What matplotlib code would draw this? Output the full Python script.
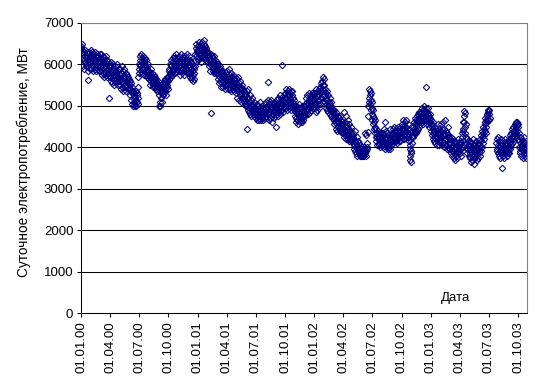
import numpy as np
import pandas as pd
import matplotlib
matplotlib.use("Agg")
import matplotlib.pyplot as plt
import matplotlib.dates as mdates

nan = np.nan

# Daily electricity consumption, MW (one list per month)
cons_2000 = [
    [6450, 6400, 6500, 6300, 6350, 6150, 5950, 6250, 6100, 6300, 5900, 6200, 6050, 6350, 6000, 6150, 5950, 6300, 6100, 6200, 5850, 5620, 6250, 6050, 6300, 6000, 6150, 5900, 6200, 6350],
    [6100, 5900, 6250, 6050, 6300, 5950, 6150, 5850, 6200, 6000, 6250, 6100, 5900, 6300, 6050, 5850, 6200, 6000, 6150, 5950, 6250, 6050, 5900, 6200, 6100, 5850, 6000, 6250, 5950],
    [6150, 5850, 6050, 6250, 5900, 5750, 6100, 6000, 6200, 5800, 6050, 5950, 5700, 6150, 5900, 6050, 5800, 6200, 5950, 5750, 6100, 5850, 6000, 5700, 5900, 6050, 5800, 5180, 5950, 5750, 6000],
    [5950, 5700, 5850, 6050, 5600, 5800, 5900, 5550, 5750, 6000, 5650, 5850, 5500, 5900, 5750, 5600, 5950, 5700, 5850, 5550, 5800, 5650, 6000, 5750, 5500, 5850, 5700, 5600, 5900, 5650],
    [5750, 5500, 5900, 5650, 5400, 5800, 5600, 5950, 5450, 5700, 5850, 5550, 5350, 5750, 5650, 5900, 5500, 5700, 5450, 5800, 5600, 5350, 5650, 5750, 5500, 5400, 5700, 5550, 5450, 5650, 5400],
    [5600, 5400, 5500, 5250, 5550, 5350, 5150, 5450, 5300, 5050, 5350, 5200, 4990, 5250, 5100, 5300, 5000, 5200, 5050, 5350, 5150, 5000, 5250, 5100, 5300, 5050, 5200, 5450, 5700, 5900],
    [6000, 5800, 6200, 5950, 6100, 5850, 6250, 6050, 5900, 6150, 5800, 6000, 6200, 5900, 6100, 5750, 6050, 5950, 6150, 5850, 6000, 5750, 5950, 6100, 5800, 5900, 5700, 5850, 6000, 5750, 5650],
    [5850, 5650, 5750, 5500, 5800, 5600, 5700, 5900, 5550, 5650, 5800, 5450, 5700, 5600, 5500, 5750, 5550, 5650, 5450, 5700, 5500, 5600, 5400, 5650, 5500, 5350, 5550, 5450, 5600, 5400, 5500],
    [5000, 5250, 5400, 5100, 5350, 4990, 5300, 5500, 5200, 5450, 5100, 5350, 5550, 5250, 5450, 5600, 5300, 5500, 5350, 5650, 5400, 5550, 5250, 5600, 5450, 5700, 5500, 5600, 5400, 5700],
    [5700, 5850, 5650, 5900, 5750, 6000, 5800, 5700, 5950, 6100, 5850, 5750, 6050, 5900, 6150, 5850, 6000, 6200, 5900, 5800, 6050, 6150, 5950, 5850, 6100, 6250, 6000, 5900, 6150, 5950, 6050],
    [6050, 5850, 6200, 5950, 5750, 6100, 6000, 6250, 5850, 6050, 5900, 6150, 5800, 6000, 6200, 5900, 6100, 5750, 5950, 6150, 6050, 5850, 6200, 6000, 5900, 6100, 5800, 6050, 6250, 5950],
    [6100, 5850, 6000, 6200, 5800, 5950, 6100, 5700, 5900, 6050, 5650, 5800, 6000, 5700, 5850, 5600, 5950, 5750, 5900, 5650, 5800, 6100, 5950, 6250, 6400, 6490, 6200, 6350, 6150, 6300, 6450],
]
cons_2001 = [
    [6300, 6100, 6450, 6250, 6550, 6350, 6150, 6400, 6250, 6500, 6050, 6350, 6450, 6200, 6550, 6300, 6400, 6150, 6500, 6600, 6350, 6250, 6450, 6150, 6400, 6300, 6100, 6350, 6200, 6050, 6300],
    [6250, 6050, 6300, 6100, 5950, 6200, 6000, 6150, 5850, 6250, 4820, 6100, 5950, 6200, 6000, 5850, 6150, 6050, 5900, 6200, 5800, 6050, 5950, 6100, 5850, 6000, 5900, 5800],
    [6050, 5800, 5950, 5650, 6000, 5750, 5900, 5550, 5850, 5700, 5950, 5600, 5800, 5450, 5750, 5900, 5650, 5550, 5850, 5700, 5450, 5800, 5600, 5750, 5500, 5650, 5400, 5700, 5550, 5800, 5500],
    [5750, 5500, 5850, 5600, 5400, 5700, 5550, 5880, 5450, 5650, 5750, 5400, 5600, 5800, 5500, 5350, 5700, 5600, 5450, 5750, 5550, 5400, 5650, 5500, 5350, 5600, 5450, 5700, 5400, 5550],
    [5550, 5300, 5650, 5400, 5200, 5500, 5700, 5350, 5450, 5150, 5550, 5300, 5600, 5250, 5400, 5100, 5450, 5300, 5200, 5500, 5350, 5150, 5400, 5250, 5100, 5350, 5200, 5050, 5300, 5150, 5000],
    [5250, 5000, 5350, 4450, 5100, 4900, 5200, 5400, 4850, 5050, 4950, 5250, 4800, 5100, 4950, 4750, 5150, 5000, 4850, 5200, 4900, 5050, 4800, 5000, 4750, 4900, 5100, 4850, 4950, 4800],
    [4850, 4700, 4950, 4800, 5050, 4650, 4900, 4750, 5000, 4850, 4700, 4950, 4650, 4800, 5100, 4750, 4900, 4650, 4850, 5000, 4700, 4800, 4950, 4650, 4750, 4900, 4800, 5050, 4700, 4850, 4950],
    [4950, 4750, 5100, 4850, 5000, 4700, 4900, 5150, 5570, 4800, 5050, 4650, 4950, 5100, 4850, 4700, 5000, 4900, 5150, 4750, 4600, 4950, 5050, 4800, 4900, 5100, 4700, 4850, 5000, 4750, 4900],
    [4850, 5000, 4500, 4950, 5150, 4800, 5050, 4900, 5200, 4750, 5000, 5100, 4850, 5250, 4950, 4800, 5100, 5000, 4900, 5200, 5050, 5980, 4900, 5150, 4850, 5100, 5250, 5000, 4950, 5200],
    [5100, 5300, 4950, 5200, 5400, 5050, 5250, 4900, 5150, 5350, 5000, 5250, 5100, 5400, 4950, 5200, 5300, 5050, 5350, 5150, 4900, 5250, 5100, 5350, 5000, 5200, 4950, 5150, 5050, 4900, 5000],
    [4950, 4750, 4850, 4600, 4900, 4700, 5000, 4650, 4800, 4950, 4550, 4850, 4700, 5050, 4750, 4600, 4900, 4800, 4650, 4950, 4700, 4850, 4600, 5000, 4750, 4900, 4650, 4850, 5000, 4800],
    [4850, 5050, 4750, 5000, 5200, 4900, 4800, 5100, 4950, 5250, 4800, 5050, 4900, 5150, 5300, 4950, 5100, 4850, 5200, 5000, 5250, 4900, 5100, 5300, 5000, 5200, 4950, 5150, 5250, 5050, 5300],
]
cons_2002 = [
    [5150, 4950, 5300, 5050, 4850, 5200, 5400, 5000, 5250, 4900, 5150, 5350, 5050, 5250, 4950, 5400, 5150, 5300, 5050, 5450, 5200, 5350, 5550, 5100, 5400, 5600, 5250, 5700, 5500, 5650, 5350],
    [5500, 5250, 5400, 5100, 5300, 4950, 5200, 5050, 5350, 4900, 5150, 5000, 5250, 4850, 5100, 4950, 5050, 4800, 5200, 4900, 5000, 4750, 5100, 4850, 4950, 4700, 4900, 4800],
    [4850, 4650, 4900, 4700, 4550, 4800, 4600, 4750, 4450, 4700, 4850, 4550, 4650, 4400, 4750, 4600, 4500, 4700, 4450, 4600, 4750, 4400, 4550, 4650, 4360, 4500, 4600, 4400, 4550, 4450, 4350],
    [4550, 4350, 4850, 4450, 4250, 4600, 4400, 4300, 4550, 4200, 4750, 4400, 4300, 4500, 4200, 4650, 4350, 4150, 4450, 4300, 4550, 4200, 4400, 4250, 4150, 4350, 4500, 4200, 4300, 4150],
    [4350, 4100, 4250, 3950, 4200, 4050, 4400, 3900, 4150, 4000, 3850, 4100, 4250, 3950, 4050, 3800, 4150, 3900, 4000, 3850, 3950, 4100, 3800, 3900, 4050, 3850, 3780, 3950, 3850, 4000, 3800],
    [3850, 3950, 3800, 3900, 4000, 3800, 3850, 3950, 4350, 3850, 4300, 3900, 3800, 4000, 3950, 4100, 4380, 4750, 5000, 5200, 5400, 5100, 5350, 5250, 5050, 5300, 4900, 5150, 4950, 5100],
    [4800, 4650, 4900, 4550, 4750, 4600, 4700, 4450, 4650, 4350, 4500, 4250, 4450, 4150, 4350, 4250, 4050, 4300, 4200, 4400, 4100, 4250, 4050, 4350, 4150, 4000, 4300, 4200, 4100, 4350, 4150],
    [4250, 4050, 4350, 4100, 4000, 4300, 4150, 4450, 4600, 4200, 3950, 4250, 4100, 4400, 4000, 4200, 4350, 4050, 3950, 4300, 4150, 4000, 4250, 4100, 4450, 3950, 4200, 4300, 4050, 4150, 4350],
    [4300, 4150, 4450, 4250, 4100, 4350, 4500, 4200, 4300, 4150, 4400, 4250, 4450, 4150, 4350, 4200, 4100, 4400, 4300, 4500, 4200, 4350, 4150, 4450, 4250, 4400, 4150, 4300, 4500, 4350],
    [4450, 4250, 4550, 4350, 4200, 4500, 4650, 4300, 4450, 4200, 4600, 4350, 4250, 4500, 4400, 4650, 4300, 4450, 4200, 4550, 4350, 4250, 4450, 4150, 4300, 4050, 3950, 3800, 3700, 3900, 3650],
    [3850, 4250, 4100, 4400, 4300, 4500, 4250, 4450, 4600, 4350, 4550, 4400, 4700, 4500, 4350, 4650, 4550, 4400, 4750, 4600, 4450, 4800, 4650, 4500, 4850, 4700, 4550, 4800, 4650, 4750],
    [4650, 4850, 4600, 4750, 4950, 4700, 4550, 4900, 4800, 4650, 4990, 4750, 4850, 4600, 4900, 5450, 4750, 4950, 4650, 4850, 4550, 4800, 4700, 4950, 4600, 4750, 4500, 4700, 4600, 4800, 4550],
]
cons_2003 = [
    [4650, 4400, 4550, 4300, 4500, 4200, 4450, 4350, 4600, 4150, 4400, 4250, 4500, 4100, 4350, 4450, 4200, 4300, 4050, 4400, 4250, 4550, 4150, 4350, 4050, 4300, 4450, 4200, 4100, 4350, 4250],
    [4400, 4150, 4550, 4250, 4050, 4450, 4300, 4600, 4100, 4350, 4000, 4450, 4200, 4650, 4300, 4050, 4400, 4200, 3950, 4350, 4150, 4500, 4250, 4000, 4300, 4100, 3950, 4250],
    [4200, 3950, 4100, 3850, 4250, 4000, 3900, 4150, 3800, 4050, 4200, 3900, 3750, 4100, 3950, 4000, 3850, 4150, 3700, 3950, 4100, 3800, 4050, 3900, 3750, 4000, 4200, 3850, 3950, 4100, 3900],
    [4050, 3850, 4150, 3950, 3800, 4100, 4250, 4000, 4350, 4150, 4450, 4620, 4400, 4870, 4600, 4750, 4820, 4500, 4350, 4550, 4250, 4100, 3950, 4200, 3850, 4050, 3950, 4150, 3800, 4000],
    [4050, 3850, 4150, 3750, 3950, 3650, 3900, 4100, 3800, 4000, 3700, 3950, 4200, 3850, 3600, 3900, 4050, 3750, 3950, 4100, 3800, 4150, 3900, 3700, 4000, 3850, 4050, 3750, 3950, 4100, 3850],
    [3900, 4100, 3800, 4000, 4200, 3900, 4150, 4300, 4000, 4250, 4400, 4100, 4350, 4500, 4200, 4450, 4300, 4600, 4400, 4550, 4700, 4350, 4650, 4500, 4800, 4600, 4750, 4900, 4650, 4850],
    [4800, 4650, 4900, 4700] + [nan] * 20 + [4100, 3900, 4200, 3950, 4050, 4250, 3850],
    [4000, 3800, 4150, 3900, 4050, 3750, 4100, 3950, 3850, 4200, 3900, 3490, 4050, 3800, 3950, 4150, 3850, 4000, 3750, 4100, 3900, 4200, 3850, 4050, 3950, 3800, 4100, 3900, 4000, 4150, 3850],
    [3900, 4100, 3850, 4200, 4000, 4300, 3950, 4150, 4350, 4050, 4250, 4450, 4100, 4300, 4500, 4200, 4400, 4150, 4350, 4550, 4250, 4450, 4300, 4500, 4600, 4350, 4550, 4400, 4620, 4500],
    [4550, 4200, 4350, 4000, 4150, 3900, 4250, 3850, 4100, 4000, 3800, 4200, 3950, 4050, 3750, 4150, 3900, 4100, 3850, 4000, 4250, 3800, 3950, 4100, 3850, 4000, 3750, 3900, 4050],
]
last_day = "2003-10-29"
tick_dates = pd.date_range("2000-01-01", "2003-10-01", freq="QS")
y_ticks = [0, 1000, 2000, 3000, 4000, 5000, 6000, 7000]

dates, values = [], []
for year, months in ((2000, cons_2000), (2001, cons_2001), (2002, cons_2002), (2003, cons_2003)):
    for i, mv in enumerate(months):
        start = pd.Timestamp(year, i + 1, 1)
        end = start + pd.offsets.MonthEnd(0)
        if end > pd.Timestamp(last_day):
            end = pd.Timestamp(last_day)
        d = pd.date_range(start, end, periods=len(mv))
        dates.extend(d)
        values.extend(mv)
dates = pd.DatetimeIndex(dates)
values = np.array(values, dtype=float)

plt.rcParams["font.family"] = ["Liberation Sans", "DejaVu Sans"]
fig = plt.figure(figsize=(5.51, 3.91), dpi=100)
ax = fig.add_axes([81 / 551, 1 - 313 / 391, 446 / 551, 290 / 391])

ax.plot(dates, values, linestyle="none", marker="D", markersize=3.3,
        markerfacecolor="none", markeredgecolor="#000080", markeredgewidth=0.75,
        antialiased=False)

ax.set_xlim(pd.Timestamp("2000-01-01"), pd.Timestamp(last_day))
ax.set_ylim(0, 7000)
ax.set_yticks(y_ticks)
ax.set_xticks(tick_dates)
ax.xaxis.set_major_formatter(mdates.DateFormatter("%d.%m.%y"))
for lab in ax.get_xticklabels():
    lab.set_rotation(90)

ax.tick_params(axis="both", labelsize=9.5, length=3, width=0.75, color="black", direction="out")
ax.tick_params(axis="y", pad=2.5)
ax.tick_params(axis="x", pad=3)

ax.set_axisbelow(True)
ax.yaxis.grid(True, color="black", linewidth=0.75)
ax.xaxis.grid(False)

for s in ("top", "right"):
    ax.spines[s].set_color("#808080")
    ax.spines[s].set_linewidth(0.75)
for s in ("left", "bottom"):
    ax.spines[s].set_color("black")
    ax.spines[s].set_linewidth(0.75)

ax.set_ylabel("Суточное электропотребление, МВт", fontsize=9.8)
ax.yaxis.set_label_coords(-0.112, 0.52)
ax.text(0.8386, 0.052, "Дата", transform=ax.transAxes, ha="center", va="center", fontsize=9.5)

fig.savefig("out.png", dpi=100)
